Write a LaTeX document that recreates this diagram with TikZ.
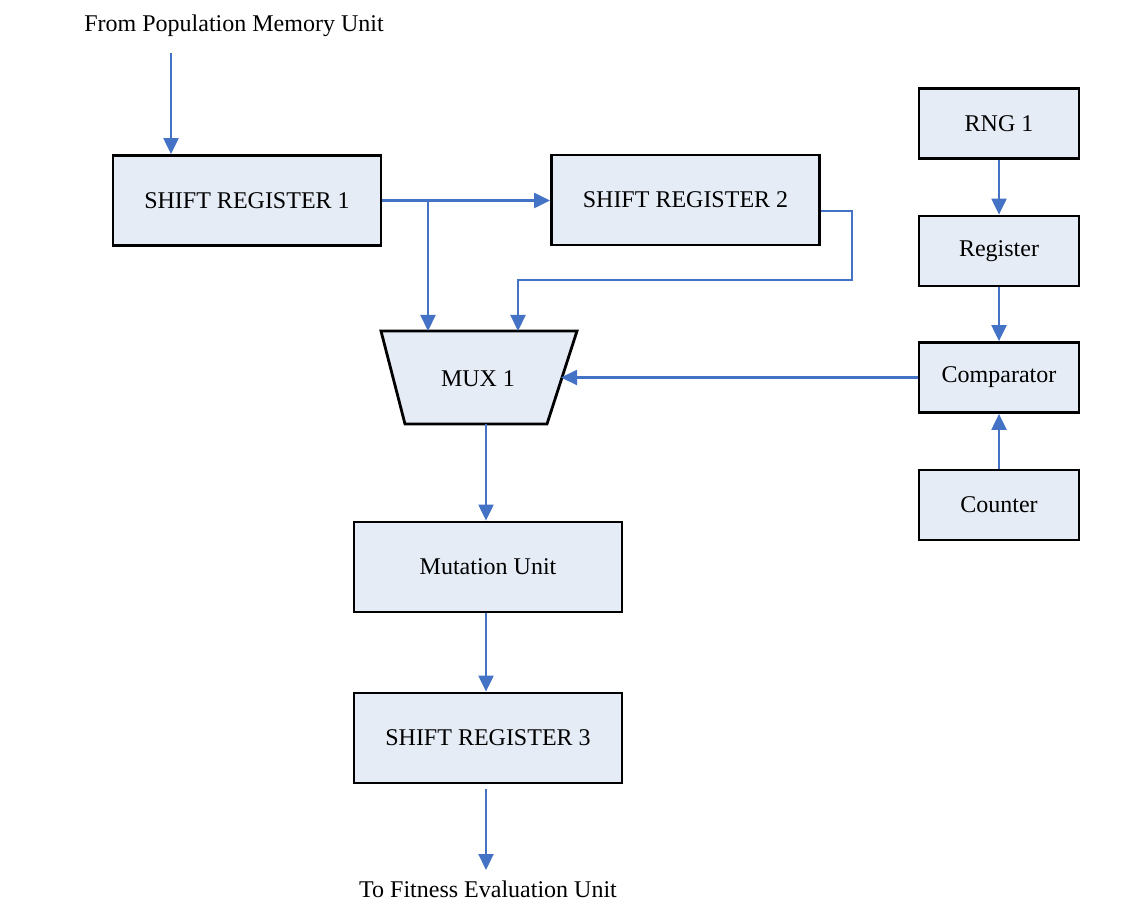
\documentclass[tikz,border=0pt]{standalone}
\usepackage{fontspec}
\setmainfont{Liberation Serif}
\usetikzlibrary{arrows.meta}
\definecolor{boxfill}{RGB}{230,236,246}
\definecolor{wire}{RGB}{68,114,196}
\begin{document}
\begin{tikzpicture}[x=0.5pt,y=-0.5pt,
  font=\fontsize{12pt}{14pt}\selectfont,
  block/.style={draw=black,line width=1.4pt,fill=boxfill,inner sep=0pt,
    minimum width=#1},
  block/.default=134pt,
  wide/.style={block=134pt,minimum height=45pt},
  small/.style={block=80pt,minimum height=35pt},
  arr/.style={draw=wire,line width=1.1pt,-{Triangle[length=8pt,width=7.5pt]}},
  wireline/.style={draw=wire,line width=1.1pt}]
\useasboundingbox (0,0) rectangle (1145,903);

% main data path
\node[wide] (sr1) at (247,200.5) {SHIFT REGISTER 1};
\node[wide] (sr2) at (685.5,200) {SHIFT REGISTER 2};
\node[wide] (mut) at (488,567) {Mutation Unit};
\node[wide] (sr3) at (488,738) {SHIFT REGISTER 3};

% multiplexer drawn as a trapezium
\draw[line width=1.4pt,fill=boxfill] (381,331) -- (577,331) -- (547,424) -- (405,424) -- cycle;
\node (mux) at (478,379) {MUX 1};
\coordinate (muxin1) at (428,331);
\coordinate (muxin2) at (518,331);
\coordinate (muxsel) at (561,377.5);
\coordinate (muxout) at (486,424);

% random mutation control chain
\node[small] (rng) at (999,123.5) {RNG 1};
\node[small] (reg) at (999,251) {Register};
\node[small] (cmp) at (999,377.5) {Comparator};
\node[small] (cnt) at (999,505) {Counter};

% external ends
\node (from) at (234,26) {From Population Memory Unit};
\node (to) at (488,889) {To Fitness Evaluation Unit};
\coordinate (src) at (171,53);
\coordinate (sink) at (486,870);
\coordinate (split) at (428,200);

% connectors
\draw[arr] (src) -- (sr1.north -| src);
\draw[arr] (sr1.east) -- (sr1.east -| sr2.west);
\draw[arr] (split) -- (muxin1);
\draw[arr] ([yshift=-5.5pt]sr2.east) -- ++(31,0) -- ++(0,69) -| (muxin2);
\draw[arr] (cmp.west) -- (muxsel);
\draw[arr] (muxout) -- (mut.north -| muxout);
\draw[arr] (mut.south -| muxout) -- (sr3.north -| muxout);
\draw[arr] ([yshift=-2.5pt]sr3.south -| muxout) -- (sink);
\draw[arr] (rng.south) -- (reg.north);
\draw[arr] (reg.south) -- (cmp.north);
\draw[arr] (cnt.north) -- (cmp.south);
\end{tikzpicture}
\end{document}
